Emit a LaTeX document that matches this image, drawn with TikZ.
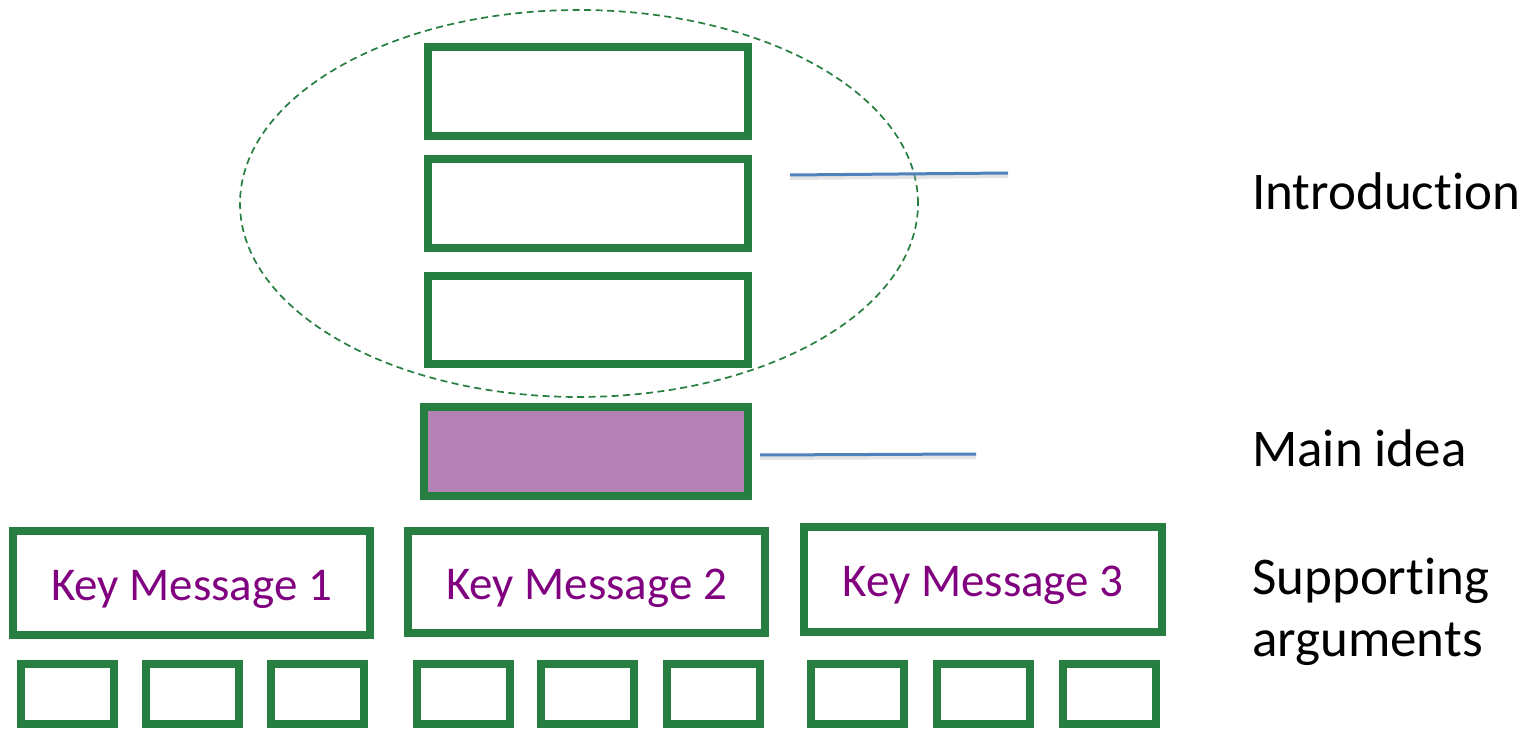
\documentclass[tikz,border=0pt]{standalone}
\usepackage{fontspec}
\setmainfont[Ligatures={NoCommon}]{Carlito}
\usetikzlibrary{shapes.geometric}
\definecolor{boxgreen}{HTML}{267F41}
\definecolor{mainfill}{HTML}{B381B3}
\definecolor{kmpurple}{HTML}{800080}
\definecolor{lineblue}{HTML}{4F81BD}
\tikzset{
  gbox/.style={draw=boxgreen, line width=8pt, rectangle, inner sep=0pt, fill=white},
  kmtext/.style={text=kmpurple, font=\fontsize{47}{56}\selectfont, anchor=base},
  lbl/.style={anchor=base west, inner sep=0pt, font=\fontsize{53}{62}\selectfont},
  bline/.style={draw=lineblue, line width=3pt},
  bshadow/.style={draw=black!30, line width=4pt, opacity=0.35},
}
\begin{document}
\begin{tikzpicture}[x=1pt,y=-1pt]
\useasboundingbox (0,0) rectangle (1540,730);
% ellipse
\node[ellipse, draw=boxgreen, dash pattern=on 7pt off 4.5pt, line width=1.7pt, minimum width=678pt, minimum height=387pt, inner sep=0pt] (ell) at (579,203.5) {};
% intro boxes
\node[gbox, minimum width=320pt, minimum height=89pt] (i1) at (588,91.5) {};
\node[gbox, minimum width=320pt, minimum height=89pt] (i2) at (588,203.5) {};
\node[gbox, minimum width=320pt, minimum height=88pt] (i3) at (588,320) {};
% main idea
\node[gbox, fill=mainfill, minimum width=324pt, minimum height=89pt] (main) at (586,451.5) {};
% key messages
\node[gbox, minimum width=357pt, minimum height=104pt] (k1) at (191.5,583) {};
\node[kmtext] at ([yshift=-17pt]k1.center) {Key Message 1};
\node[gbox, minimum width=357pt, minimum height=102pt] (k2) at (586.5,582) {};
\node[kmtext] at ([yshift=-17pt]k2.center) {Key Message 2};
\node[gbox, minimum width=358pt, minimum height=105pt] (k3) at (983,579.5) {};
\node[kmtext] at ([yshift=-17pt]k3.center) {Key Message 3};
% small boxes
\foreach \n/\cx in {s1/67.5, s2/192, s3/317, s4/463, s5/587.5, s6/713.5, s7/857, s8/983.5, s9/1109}{
  \node[gbox, minimum width=93pt, minimum height=60pt] (\n) at (\cx,694) {};
}
% blue lines
\coordinate (a1) at (790,175);
\coordinate (a2) at (1008,173);
\coordinate (b1) at (760,455);
\coordinate (b2) at (976,454);
\draw[bshadow] ([yshift=-3pt]a1) -- ([yshift=-3pt]a2);
\draw[bline] (a1) -- (a2);
\draw[bshadow] ([yshift=-3pt]b1) -- ([yshift=-3pt]b2);
\draw[bline] (b1) -- (b2);
% labels
\node[lbl] (tintro) at (1252,210) {Introduction};
\node[lbl] (tmain) at (1252,466) {Main idea};
\node[lbl] (tsup1) at (1252,594) {Supporting};
\node[lbl] (tsup2) at (1252,656) {arguments};
\end{tikzpicture}
\end{document}
